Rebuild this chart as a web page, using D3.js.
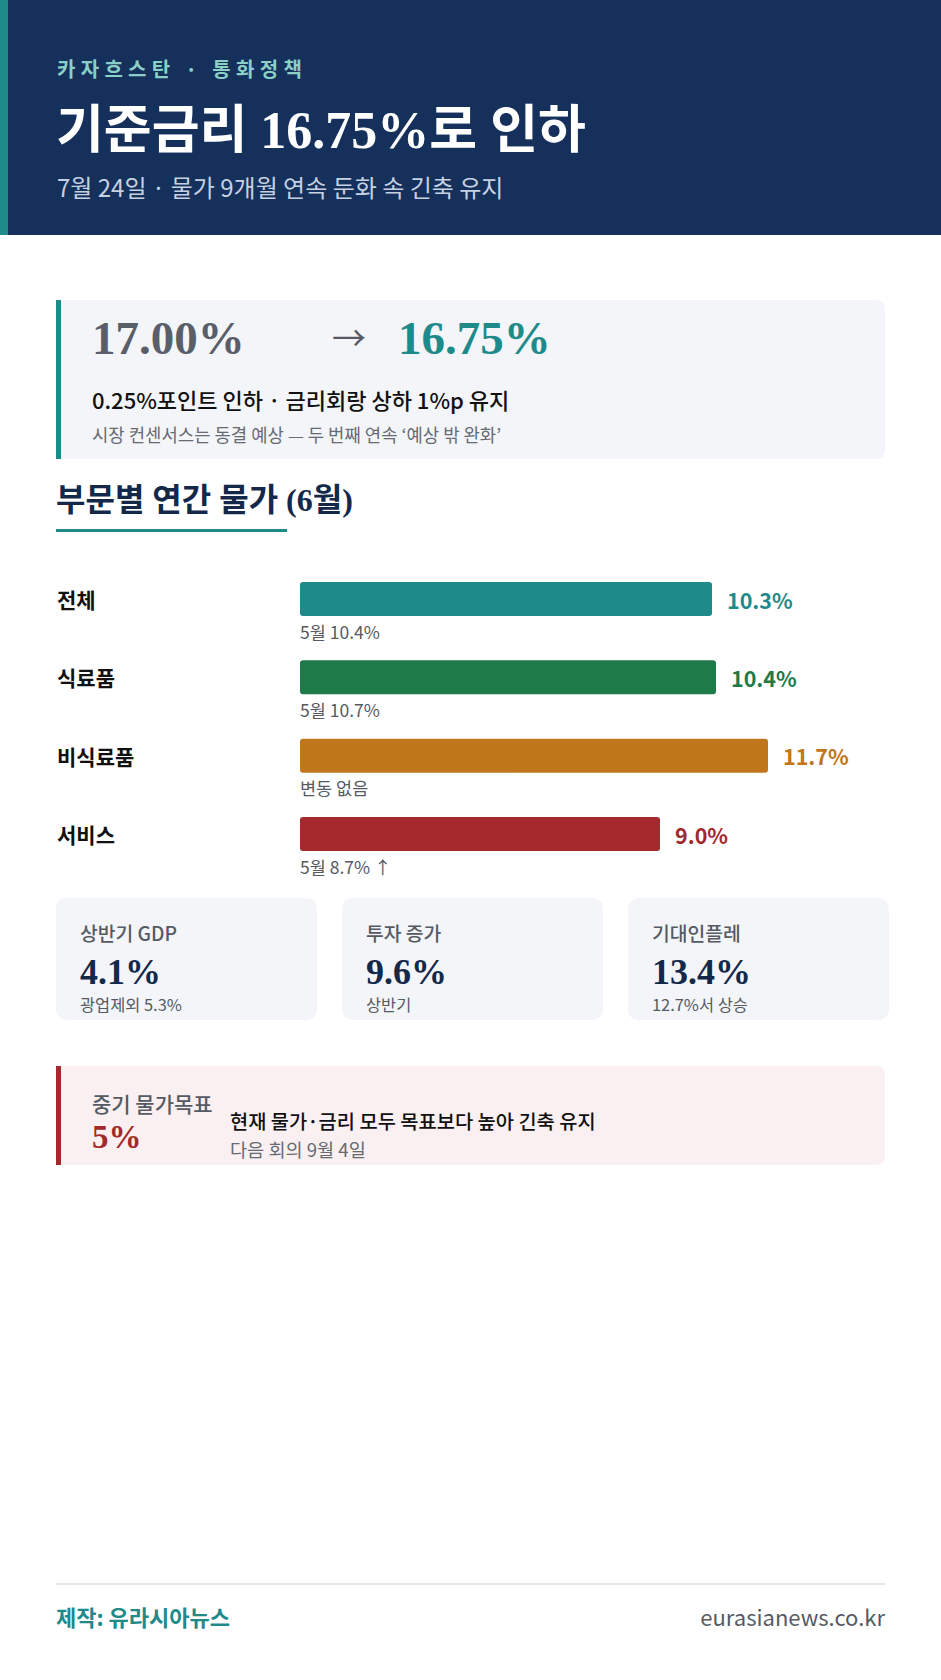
<!DOCTYPE html>
<html><head><meta charset="utf-8">
<script src="https://cdn.jsdelivr.net/npm/d3@7/dist/d3.min.js"></script>
<style>
html,body{margin:0;padding:0;background:#fff;}
svg{display:block;}
</style></head>
<body><div id="chart"></div>
<script>
// ---- data ----
const kicker = "카자흐스탄 · 통화정책";
const title = "기준금리 16.75%로 인하";
const subtitle = "7월 24일 · 물가 9개월 연속 둔화 속 긴축 유지";
const rateBefore = "17.00%";
const rateAfter = "16.75%";
const rateLine1 = "0.25%포인트 인하 · 금리회랑 상하 1%p 유지";
const rateLine2 = "시장 컨센서스는 동결 예상 — 두 번째 연속 ‘예상 밖 완화’";
const sectionTitle = "부문별 연간 물가 (6월)";
const categories = ["전체", "식료품", "비식료품", "서비스"];
const values = [10.3, 10.4, 11.7, 9.0];
const notes = ["5월 10.4%", "5월 10.7%", "변동 없음", "5월 8.7% ↑"];
const statLabels = ["상반기 GDP", "투자 증가", "기대인플레"];
const statValues = ["4.1%", "9.6%", "13.4%"];
const statNotes = ["광업제외 5.3%", "상반기", "12.7%서 상승"];
const targetLabel = "중기 물가목표";
const targetValue = "5%";
const targetLine1 = "현재 물가·금리 모두 목표보다 높아 긴축 유지";
const targetLine2 = "다음 회의 9월 4일";
const credit = "제작: 유라시아뉴스";
const site = "eurasianews.co.kr";

// ---- styles ----
const palette = ["#1f8a8a", "#1e7a48", "#c0761b", "#a3292c"];
const SANS = "'Noto Sans CJK KR','Noto Sans',sans-serif";
const SERIF = "'Liberation Serif','DejaVu Serif','Noto Sans CJK KR',serif";
const W = 941, H = 1680;

const svg = d3.select("#chart").append("svg").attr("width", W).attr("height", H);

// header
svg.append("rect").attr("x", 0).attr("y", 0).attr("width", W).attr("height", 235).attr("fill", "#14305b");
svg.append("rect").attr("x", 0).attr("y", 0).attr("width", 8).attr("height", 235).attr("fill", "#1f8a8a");
svg.append("text").attr("x", 57).attr("y", 68).attr("dominant-baseline", "central")
  .attr("font-family", SANS).attr("font-size", 20).attr("font-weight", 700).attr("letter-spacing", 5.3)
  .attr("fill", "#8ccfc6").text(kicker);
svg.append("text").attr("x", 56).attr("y", 130).attr("dominant-baseline", "central")
  .attr("font-family", SERIF).attr("font-size", 52).attr("font-weight", 700)
  .attr("fill", "#ffffff").text(title);
svg.append("text").attr("x", 57).attr("y", 186).attr("dominant-baseline", "central")
  .attr("font-family", SANS).attr("font-size", 24)
  .attr("fill", "#c6d1e2").text(subtitle);

// rate card
function leftCard(x, y, w, h, bg, border) {
  const r = 9;
  svg.append("path").attr("fill", bg)
    .attr("d", `M${x},${y}H${x + w - r}Q${x + w},${y} ${x + w},${y + r}V${y + h - r}Q${x + w},${y + h} ${x + w - r},${y + h}H${x}Z`);
  svg.append("rect").attr("x", x).attr("y", y).attr("width", 5).attr("height", h).attr("fill", border);
}
leftCard(56, 300, 829, 159, "#f3f5f9", "#1f8a8a");
svg.append("text").attr("x", 92).attr("y", 338).attr("dominant-baseline", "central")
  .attr("font-family", SERIF).attr("font-size", 47).attr("font-weight", 700).attr("fill", "#5a5e6a").text(rateBefore);
svg.append("text").attr("x", 349).attr("y", 336).attr("dominant-baseline", "central").attr("text-anchor", "middle")
  .attr("font-family", SANS).attr("font-size", 34).attr("fill", "#555a66").text("→");
svg.append("text").attr("x", 398).attr("y", 338).attr("dominant-baseline", "central")
  .attr("font-family", SERIF).attr("font-size", 47).attr("font-weight", 700).attr("fill", "#1f8a8a").text(rateAfter);
svg.append("text").attr("x", 92).attr("y", 399).attr("dominant-baseline", "central")
  .attr("font-family", SANS).attr("font-size", 22).attr("font-weight", 500).attr("fill", "#111").text(rateLine1);
svg.append("text").attr("x", 92).attr("y", 434).attr("dominant-baseline", "central")
  .attr("font-family", SANS).attr("font-size", 17.8).attr("fill", "#666a72").text(rateLine2);

// section heading
svg.append("text").attr("x", 56).attr("y", 500).attr("dominant-baseline", "central")
  .attr("font-family", SERIF).attr("font-size", 32).attr("font-weight", 700).attr("fill", "#14284a").text(sectionTitle);
svg.append("rect").attr("x", 56).attr("y", 529).attr("width", 231).attr("height", 3).attr("fill", "#1f8a8a");

// bars
const x = d3.scaleLinear().domain([0, 13]).range([300, 820]);
const y = d3.scalePoint().domain(categories).range([582, 817]);
const barH = 34;
const rows = categories.map((c, i) => ({ c, v: values[i], note: notes[i], color: palette[i] }));
const g = svg.append("g");
g.selectAll("text.cat").data(rows).join("text").attr("class", "cat")
  .attr("x", 57).attr("y", d => y(d.c) + barH / 2).attr("dominant-baseline", "central")
  .attr("font-family", SANS).attr("font-size", 21).attr("font-weight", 700).attr("fill", "#111")
  .text(d => d.c);
g.selectAll("rect.bar").data(rows).join("rect").attr("class", "bar")
  .attr("x", x(0)).attr("y", d => y(d.c)).attr("width", d => x(d.v) - x(0)).attr("height", barH)
  .attr("rx", 3).attr("fill", d => d.color);
g.selectAll("text.val").data(rows).join("text").attr("class", "val")
  .attr("x", d => x(d.v) + 15).attr("y", d => y(d.c) + barH / 2).attr("dominant-baseline", "central")
  .attr("font-family", SANS).attr("font-size", 21.5).attr("font-weight", 700).attr("fill", d => d.color)
  .text(d => d3.format(".1f")(d.v) + "%");
g.selectAll("text.note").data(rows).join("text").attr("class", "note")
  .attr("x", x(0)).attr("y", d => y(d.c) + 49).attr("dominant-baseline", "central")
  .attr("font-family", SANS).attr("font-size", 17.5).attr("fill", "#555a63")
  .text(d => d.note);

// stat cards
const cx = d3.scalePoint().domain(statLabels).range([56, 628]);
const cardW = 261;
const cards = svg.selectAll("g.card").data(statLabels.map((l, i) => ({ l, v: statValues[i], n: statNotes[i] })))
  .join("g").attr("class", "card").attr("transform", d => `translate(${cx(d.l)},898)`);
cards.append("rect").attr("width", cardW).attr("height", 122).attr("rx", 10).attr("fill", "#f3f5f9");
cards.append("text").attr("x", 24).attr("y", 35).attr("dominant-baseline", "central")
  .attr("font-family", SANS).attr("font-size", 19.3).attr("font-weight", 500).attr("fill", "#555a63").text(d => d.l);
cards.append("text").attr("x", 24).attr("y", 74).attr("dominant-baseline", "central")
  .attr("font-family", SERIF).attr("font-size", 36).attr("font-weight", 700).attr("fill", "#14284a").text(d => d.v);
cards.append("text").attr("x", 24).attr("y", 106).attr("dominant-baseline", "central")
  .attr("font-family", SANS).attr("font-size", 16.4).attr("fill", "#555a63").text(d => d.n);

// target box
leftCard(56, 1066, 829, 99, "#fbf0f1", "#a3292c");
svg.append("text").attr("x", 92).attr("y", 1103).attr("dominant-baseline", "central")
  .attr("font-family", SANS).attr("font-size", 21).attr("font-weight", 500).attr("fill", "#555a63").text(targetLabel);
svg.append("text").attr("x", 92).attr("y", 1137).attr("dominant-baseline", "central")
  .attr("font-family", SERIF).attr("font-size", 33).attr("font-weight", 700).attr("fill", "#a3292c").text(targetValue);
svg.append("text").attr("x", 230).attr("y", 1120).attr("dominant-baseline", "central")
  .attr("font-family", SANS).attr("font-size", 19.8).attr("font-weight", 500).attr("fill", "#111").text(targetLine1);
svg.append("text").attr("x", 230).attr("y", 1148).attr("dominant-baseline", "central")
  .attr("font-family", SANS).attr("font-size", 18.6).attr("fill", "#666a72").text(targetLine2);

// footer
svg.append("rect").attr("x", 56).attr("y", 1583).attr("width", 829).attr("height", 2).attr("fill", "#e5e9ef");
svg.append("text").attr("x", 56).attr("y", 1616).attr("dominant-baseline", "central")
  .attr("font-family", SANS).attr("font-size", 22).attr("font-weight", 700).attr("fill", "#1f8a8a").text(credit);
svg.append("text").attr("x", 885).attr("y", 1616).attr("dominant-baseline", "central").attr("text-anchor", "end")
  .attr("font-family", SANS).attr("font-size", 22).attr("fill", "#555a63").text(site);
</script></body></html>
